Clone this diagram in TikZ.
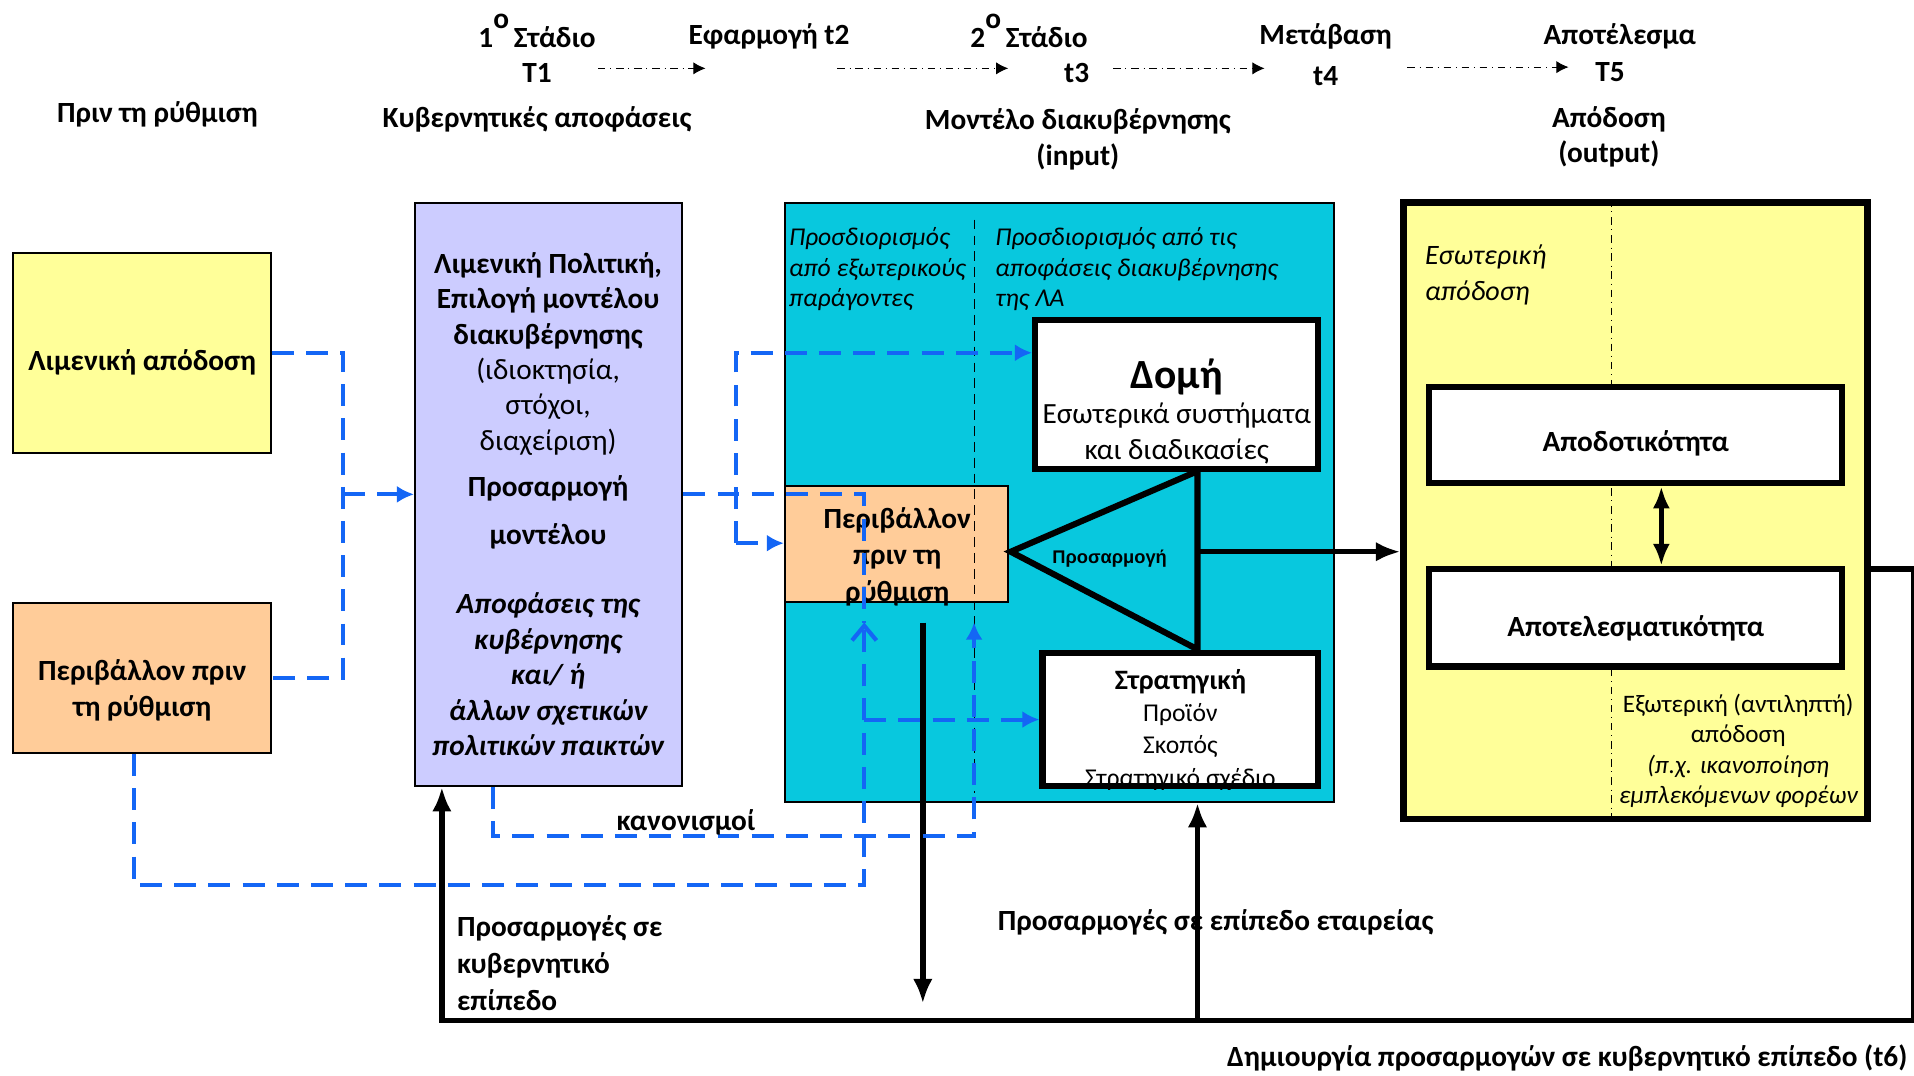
\documentclass[tikz,border=0pt]{standalone}
\usepackage{fontspec}
\setmainfont{Carlito}
\newfontfamily\arialfont{Liberation Sans}
\usetikzlibrary{arrows.meta}
\definecolor{paleyellow}{HTML}{FFFF99}
\definecolor{paleorange}{HTML}{FFCC99}
\definecolor{lavender}{HTML}{CCCCFF}
\definecolor{turq}{HTML}{08C8DE}
\definecolor{dashblue}{HTML}{1466F5}
\begin{document}
\begin{tikzpicture}[x=0.5pt,y=-0.5pt]

      \tikzset{lbl/.style={font=\fontsize{12}{14.5}\selectfont\bfseries, inner sep=0pt, align=center},
               box/.style={draw, line width=0.8pt, inner sep=0pt},
               heavybox/.style={draw, line width=2.5pt, fill=white, inner sep=0pt},
               note/.style={inner sep=0pt, align=left, font=\fontsize{10.5}{12.5}\selectfont\itshape},
               bluedash/.style={draw=dashblue, line width=1.7pt, dash pattern=on 9pt off 5pt},
               fb/.style={line width=2.2pt, line join=miter},
               stagearrow/.style={thin, dash dot, -{Latex[length=5pt,width=5pt]}}}
      \useasboundingbox (0,0) rectangle (1568,881);
% Stages
	%top row
      	\node[lbl] (st1) at (440,25) {1\raisebox{0.65em}{o}\,Στάδιο};
      	\node[lbl] (t1) at (440,60) {T1};
      	\node[lbl] (st2) at (630,30) {Εφαρμογή t2};
      	\node[lbl] (st3) at (843,25) {2\raisebox{0.65em}{o}\,Στάδιο};
      	\node[lbl] (t3) at (882,60) {t3};
      	\node[lbl] (st4) at (1086,30) {Μετάβαση};
      	\node[lbl] (t4) at (1086,62) {t4};
      	\node[lbl] (st5) at (1327,30) {Αποτέλεσμα};
      	\node[lbl] (t5) at (1319,59) {T5};
      	\foreach \n/\xa/\xb/\yy in {1/490/578/56, 2/686/826/56, 3/912/1036/56, 4/1153/1285/55}{
      		\coordinate (sa\n) at (\xa,\yy);
      		\coordinate (sb\n) at (\xb,\yy);
      		\draw[stagearrow] (sa\n) -- (sb\n);
      	}
	%headings
      	\node[lbl] (hpre) at (129,94) {Πριν τη ρύθμιση};
      	\node[lbl] (hgov) at (440,98) {Κυβερνητικές αποφάσεις};
      	\node[lbl] (hmod) at (883,114) {Μοντέλο διακυβέρνησης\\(input)};
      	\node[lbl] (hout) at (1318,112) {Απόδοση\\(output)};
% Boxes
	%left
      	\node[box, fill=paleyellow, minimum width=105.5pt, minimum height=82pt] (perf) at (116.5,289) {};
      	\node[lbl] (perftxt) at (116.5,297) {Λιμενική απόδοση};
      	\node[box, fill=paleorange, minimum width=105.5pt, minimum height=61.5pt] (envA) at (116.5,555.5) {};
      	\node[lbl, font=\fontsize{12}{15}\selectfont\bfseries] (envAtxt) at (116.5,565.5) {Περιβάλλον πριν\\τη ρύθμιση};
	%policy
      	\node[box, fill=lavender, minimum width=109.5pt, minimum height=239pt] (policy) at (449.5,405) {};
      	\node[lbl] (policytxt) at (449,413) {Λιμενική Πολιτική,\\Επιλογή μοντέλου\\διακυβέρνησης\\{\mdseries (ιδιοκτησία,}\\{\mdseries στόχοι,}\\{\mdseries διαχείριση)}\\[4.5pt]Προσαρμογή\\[5pt]μοντέλου\\[14pt]{\itshape Αποφάσεις της}\\{\itshape κυβέρνησης}\\{\itshape και/ ή}\\{\itshape άλλων σχετικών}\\{\itshape πολιτικών παικτών}};
	%governance model
      	\node[box, fill=turq, minimum width=225pt, minimum height=245.5pt] (model) at (868,411.5) {};
      	\node[note, anchor=north west] (extnote) at (646,186) {Προσδιορισμός\\από εξωτερικούς\\παράγοντες};
      	\node[note, anchor=north west] (govnote) at (815,186) {Προσδιορισμός από τις\\αποφάσεις διακυβέρνησης\\της ΛΑ};
      	\node[heavybox, minimum width=116pt, minimum height=61pt] (struct) at (964,323) {};
      	\node[lbl] (structtxt) at (964,337) {{\fontsize{17}{20}\selectfont Δομή}\\{\mdseries Εσωτερικά συστήματα}\\{\mdseries και διαδικασίες}};
      	\node[box, fill=paleorange, minimum width=91.5pt, minimum height=47.5pt] (envB) at (734.5,445.5) {};
      	\node[lbl, font=\fontsize{12}{15}\selectfont\bfseries] (envBtxt) at (735,456) {Περιβάλλον\\πριν τη\\ρύθμιση};
      	\node[heavybox, minimum width=113pt, minimum height=54.5pt] (strat) at (967,589.5) {};
      	\begin{scope}
      		\clip (strat.south west) rectangle (strat.north east);
      		\node[inner sep=0pt, align=center, font=\fontsize{10.5}{13.25}\selectfont] (strattxt) at (967,598) {{\bfseries\fontsize{11.5}{13.25}\selectfont Στρατηγική}\\Προϊόν\\Σκοπός\\Στρατηγικό σχέδιο};
      	\end{scope}
      	\coordinate (divT) at (798,180);
      	\coordinate (divB) at (798,650);
      	\draw[thin, dash pattern=on 4pt off 2.5pt] (divT) -- (divB);
      	\coordinate (tip) at (828,452);
      	\coordinate (triT) at (981,386);
      	\coordinate (triB) at (981,532);
      	\coordinate (triR) at (981,452);
      	\draw[line width=2.5pt, line join=miter] (triT) -- (tip) -- (triB) -- cycle;
      	\node[inner sep=0pt, font=\arialfont\bfseries\fontsize{7.5}{9}\selectfont] (adjlbl) at (909,458) {Προσαρμογή};
	%performance
      	\node[heavybox, fill=paleyellow, line width=2.8pt, minimum width=190pt, minimum height=252.5pt] (result) at (1340,418.5) {};
      	\coordinate (divR) at (1320,0);
      	\draw[thin, dash dot] (result.north -| divR) -- (result.south -| divR);
      	\node[note, font=\fontsize{11.5}{15}\selectfont\itshape, anchor=north west] (intnote) at (1167,200) {Εσωτερική\\απόδοση};
      	\node[heavybox, minimum width=169pt, minimum height=39.5pt] (effic) at (1340,356.5) {};
      	\node[lbl] (effictxt) at (1340,363.5) {Αποδοτικότητα};
      	\node[heavybox, minimum width=169pt, minimum height=40pt] (effect) at (1340,506) {};
      	\node[lbl] (effecttxt) at (1340,515) {Αποτελεσματικότητα};
      	\node[inner sep=0pt, align=center, font=\fontsize{10.3}{12.5}\selectfont] (extperf) at (1424,615) {Εξωτερική (αντιληπτή)\\απόδοση\\{\itshape (π.χ. ικανοποίηση}\\{\itshape εμπλεκόμενων φορέων}};
% Edges
	%black
      	\coordinate (dbl) at (1361,0);
      	\draw[fb, {Latex[length=9pt,width=7pt]}-{Latex[length=9pt,width=7pt]}] (effic.south -| dbl) -- (effect.north -| dbl);
      	\draw[fb, -{Latex[length=10pt,width=8pt]}] (triR) -- (triR -| result.west);
      	\coordinate (fbNE) at (1568,466);
      	\coordinate (fbSE) at (1568,836);
      	\coordinate (fbSW) at (362,836);
      	\coordinate (fbMid) at (981,836);
      	\draw[fb, -{Latex[length=10pt,width=8pt]}] (result.east |- fbNE) -- (fbNE) -- (fbSE) -- (fbSW) -- (fbSW |- policy.south);
      	\draw[fb, -{Latex[length=10pt,width=8pt]}] (fbMid) -- (fbMid |- model.south);
      	\coordinate (dnTop) at (756,510);
      	\coordinate (dnBot) at (756,822);
      	\draw[fb, -{Latex[length=10pt,width=8pt]}] (dnTop) -- (dnBot);
	%blue dashed
      	\coordinate (jL) at (281,405);
      	\coordinate (jM) at (708,405);
      	\coordinate (jUp) at (708,510);
      	\coordinate (lpT) at (603,289);
      	\coordinate (lpB) at (603,445);
      	\coordinate (dnL) at (110,725);
      	\coordinate (regL) at (404,685);
      	\coordinate (regR) at (798,685);
      	\coordinate (regUp) at (798,510);
      	\draw[bluedash] (perf.east) -| (jL) |- (envA.east);
      	\draw[bluedash, -{Latex[length=7pt,width=7pt]}] (jL) -- (jL -| policy.west);
      	\draw[bluedash] (jL -| policy.east) -- (jM) -- (jUp);
      	\draw[bluedash, -{Latex[length=7pt,width=7pt]}] (lpB) -- (lpT) -- (lpT -| struct.west);
      	\draw[bluedash, -{Latex[length=7pt,width=7pt]}] (lpB) -- (lpB -| envB.west);
      	\draw[bluedash, -{Straight Barb[length=6pt,width=10pt]}] (envA.south -| dnL) -- (dnL) -- (dnL -| jM) -- (jUp);
      	\draw[bluedash, -{Latex[length=7pt,width=7pt]}] (jM |- strat.west) -- (strat.west);
      	\draw[bluedash, -{Latex[length=7pt,width=7pt]}] (policy.south -| regL) -- (regL) -- (regR) -- (regUp);
% Labels
      	\node[lbl] (regs) at (562,674) {κανονισμοί};
      	\node[lbl, align=left, anchor=north west, font=\fontsize{12}{15}\selectfont\bfseries] (govadj) at (374,750) {Προσαρμογές σε\\κυβερνητικό\\επίπεδο};
      	\node[lbl, anchor=west] (firmadj) at (817,756) {Προσαρμογές σε επίπεδο εταιρείας};
      	\node[lbl, anchor=east] (t6) at (1563,867) {Δημιουργία προσαρμογών σε κυβερνητικό επίπεδο (t6)};

\end{tikzpicture}
\end{document}
